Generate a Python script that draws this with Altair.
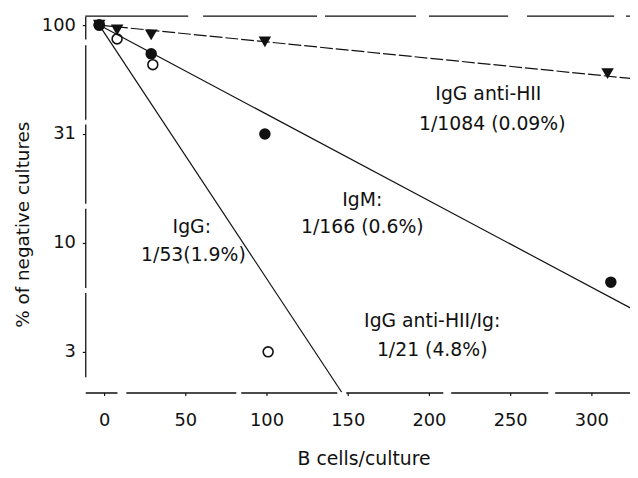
import altair as alt
import pandas as pd

# ---- data ----
# IgG anti-HII (filled down-triangles)
tri_x = [-3, 8, 29, 99, 310]
tri_y = [100, 94.9, 90.1, 83.7, 59.9]
# IgM (filled circles)
igm_x = [-3, 29, 99, 312]
igm_y = [100, 73.8, 31.6, 6.6]
# IgG (open circles)
igg_x = [-3, 8, 30, 101]
igg_y = [100, 86.4, 65.8, 3.16]

# fitted lines (end points)
fit_anti_x = [-3, 325]
fit_anti_y = [100, 56.8]
fit_igm_x = [-3, 325]
fit_igm_y = [100, 4.98]
fit_igg_x = [-3, 146.3]
fit_igg_y = [100, 2.06]

# annotations
ann_text = ["IgG anti-HII", "1/1084 (0.09%)", "IgM:", "1/166 (0.6%)",
            "IgG:", "1/53(1.9%)", "IgG anti-HII/Ig:", "1/21 (4.8%)"]
ann_x = [236.6, 239, 159, 159, 54, 55, 202, 202]
ann_y = [48.1, 35.1, 15.7, 11.8, 11.8, 8.8, 4.36, 3.23]

x_ticks = [0, 50, 100, 150, 200, 250, 300]
y_tick_values = [3.1623, 10, 31.623, 100]
y_tick_labels = ["3", "10", "31", "100"]

# ---- chart ----
W, H = 550, 380
FONT = "DejaVu Sans"
INK = "#111111"

label_expr = " : ".join(
    f"datum.value < {v * 1.05} ? '{l}'" for v, l in zip(y_tick_values[:-1], y_tick_labels[:-1])
) + f" : '{y_tick_labels[-1]}'"

x_enc = alt.X("x:Q",
              scale=alt.Scale(domain=[-11.6, 323.8], nice=False, zero=False),
              axis=alt.Axis(values=x_ticks, title="B cells/culture", grid=False,
                            tickSize=3, labelPadding=16, labelFontSize=18,
                            titleFontSize=19, titleFontWeight="normal",
                            titleX=281, titleY=73, titleBaseline="alphabetic",
                            titleAnchor="middle",
                            domainDash=[32, 9, 111, 5, 97, 9, 98, 8, 98, 7, 100, 10]))
y_enc = alt.Y("y:Q",
              scale=alt.Scale(type="log", domain=[2.055, 109.9], nice=False, zero=False),
              axis=alt.Axis(values=y_tick_values, labelExpr=label_expr,
                            title="% of negative cultures", grid=False,
                            tickSize=3, labelPadding=7, labelFontSize=18,
                            titleFontSize=18.5, titleFontWeight="normal",
                            titleX=-63, titleY=210, titleAngle=270,
                            titleBaseline="middle", titleAlign="center",
                            domainDash=[0, 16, 85, 5, 80, 5, 80, 5, 75, 6, 30, 10]))


def df(x, y):
    return pd.DataFrame({"x": x, "y": y})


line_anti = alt.Chart(df(fit_anti_x, fit_anti_y)).mark_line(
    color=INK, strokeWidth=1.2, strokeDash=[13, 3], clip=True).encode(x=x_enc, y=y_enc)
line_igm = alt.Chart(df(fit_igm_x, fit_igm_y)).mark_line(
    color=INK, strokeWidth=1.2, clip=True).encode(x=x_enc, y=y_enc)
line_igg = alt.Chart(df(fit_igg_x, fit_igg_y)).mark_line(
    color=INK, strokeWidth=1.2, clip=True).encode(x=x_enc, y=y_enc)

pts_igg = alt.Chart(df(igg_x, igg_y)).mark_point(
    shape="circle", filled=False, stroke=INK, strokeWidth=1.6, size=100, opacity=1,
    clip=True).encode(x=x_enc, y=y_enc)
pts_tri = alt.Chart(df(tri_x, tri_y)).mark_point(
    shape="triangle-down", filled=True, color=INK, size=160, opacity=1,
    clip=True).encode(x=x_enc, y=y_enc)
pts_igm = alt.Chart(df(igm_x, igm_y)).mark_point(
    shape="circle", filled=True, color=INK, size=135, opacity=1,
    clip=True).encode(x=x_enc, y=y_enc)

ann = alt.Chart(pd.DataFrame({"x": ann_x, "y": ann_y, "t": ann_text})).mark_text(
    font=FONT, fontSize=19, color=INK, align="center", baseline="middle").encode(
    x=x_enc, y=y_enc, text="t:N")

top_border = alt.Chart(pd.DataFrame({"a": [0]})).mark_rule(
    color=INK, strokeWidth=1.3,
    strokeDash=[104, 15, 115, 8, 92, 13, 80, 19, 88, 12, 100, 10]).encode(
    x=alt.value(0), x2=alt.value(W), y=alt.value(0))

chart = alt.layer(top_border, line_anti, line_igm, line_igg, pts_igg, pts_tri, pts_igm, ann).properties(
    width=W, height=H,
    autosize=alt.AutoSizeParams(type="none"),
    padding={"left": 78, "top": 6, "right": 0, "bottom": 76},
    background="white",
).configure_view(stroke=None).configure_axis(
    domainColor=INK, domainWidth=1.3, tickColor=INK, tickWidth=1.2,
    labelColor=INK, titleColor=INK, labelFont=FONT, titleFont=FONT,
)

chart.save("out.html", embed_options={"renderer": "svg", "actions": False})
